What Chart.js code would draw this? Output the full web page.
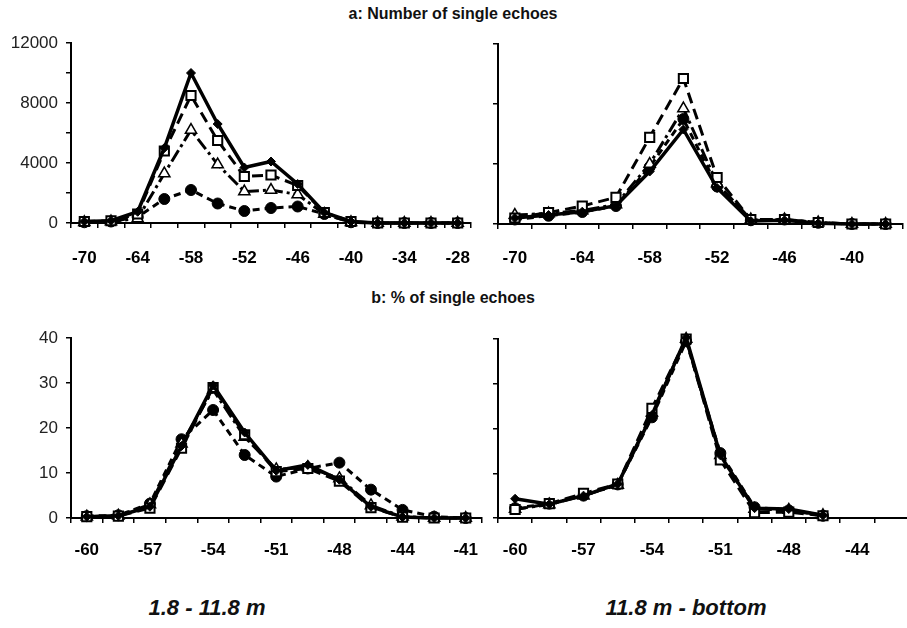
<!DOCTYPE html>
<html>
<head>
<meta charset="utf-8">
<script src="https://cdn.jsdelivr.net/npm/chart.js@4.4.0/dist/chart.umd.min.js"></script>
<style>
  body { margin: 0; background: #fff; width: 907px; height: 628px; position: relative; overflow: hidden;
         font-family: "Liberation Sans", Arial, sans-serif; }
  canvas { position: absolute; }
  .title { position: absolute; font-weight: bold; font-size: 16px; color: #111; white-space: nowrap;
           transform: translate(-50%, -50%); }
  .caption { position: absolute; font-weight: bold; font-style: italic; font-size: 22px; color: #111;
             white-space: nowrap; transform: translate(-50%, -50%); }
</style>
</head>
<body>
<div class="title" style="left:453px;top:14px">a: Number of single echoes</div>
<div class="title" style="left:453px;top:298px">b: % of single echoes</div>
<canvas id="tl" width="480" height="250" style="left:0;top:30px"></canvas>
<canvas id="tr" width="461" height="250" style="left:450px;top:30px"></canvas>
<canvas id="bl" width="490" height="250" style="left:0;top:320px"></canvas>
<canvas id="br" width="467" height="250" style="left:450px;top:320px"></canvas>
<div class="caption" style="left:207px;top:608px">1.8 - 11.8 m</div>
<div class="caption" style="left:686px;top:608px">11.8 m - bottom</div>
<script>
// x categories (dB), only every other one is labelled
const topLeftCats = ['-70', '-67', '-64', '-61', '-58', '-55', '-52', '-49', '-46', '-43', '-40', '-37', '-34', '-31', '-28'];
const topRightCats = ['-70', '-67', '-64', '-61', '-58', '-55', '-52', '-49', '-46', '-43', '-40', '-37'];
const bottomLeftCats = ['-60', '-58', '-57', '-55', '-54', '-52', '-51', '-49', '-48', '-46', '-44', '-42', '-41'];
const bottomRightCats = ['-60', '-59', '-57', '-56', '-54', '-53', '-51', '-50', '-48', '-46', '-44', '-43'];

// a: number of single echoes, 1.8 - 11.8 m
const tlSolid = [100, 150, 750, 5000, 10000, 6600, 3700, 4100, 2600, 700, 100, 0, 0, 0, 0];
const tlSquare = [100, 150, 600, 4800, 8500, 5500, 3100, 3200, 2500, 700, 100, 0, 0, 0, 0];
const tlTriangle = [50, 100, 300, 3300, 6200, 3900, 2100, 2200, 1900, 600, 50, 0, 0, 0, 0];
const tlCircle = [50, 100, 400, 1600, 2200, 1300, 800, 1000, 1100, 600, 50, 0, 0, 0, 0];

// a: number of single echoes, 11.8 m - bottom
const trSolid = [400, 600, 820, 1220, 3500, 6300, 2400, 200, 250, 50, 0, 0];
const trSquare = [400, 760, 1200, 1780, 5780, 9700, 3100, 300, 300, 100, 0, 0];
const trTriangle = [600, 700, 900, 1300, 4000, 7700, 2700, 300, 300, 100, 0, 0];
const trCircle = [300, 550, 800, 1200, 3800, 7000, 2500, 250, 300, 80, 0, 0];

// b: % of single echoes, 1.8 - 11.8 m
const blSolid = [0.3, 0.5, 2.5, 16, 29.5, 19, 10.5, 11.8, 8.5, 2.5, 0.2, 0, 0];
const blSquare = [0.3, 0.4, 2.2, 15.5, 29, 18.5, 10.3, 11, 8.2, 2.3, 0.2, 0, 0];
const blTriangle = [0.3, 0.5, 3, 16.5, 28.5, 18, 10.8, 11.3, 8.8, 2.8, 0.3, 0, 0];
const blCircle = [0.4, 0.6, 3.2, 17.5, 24, 14, 9.2, 11, 12.3, 6.3, 1.8, 0.3, 0];

// b: % of single echoes, 11.8 m - bottom
const brSolid = [4.3, 3.1, 5, 7.6, 23, 40.3, 14, 2.2, 2, 0.6, null, null];
const brSquare = [1.9, 3.2, 5.5, 7.6, 24.5, 40, 13, 1.2, 1.3, 0.5, null, null];
const brTriangle = [2, 3, 5, 7.4, 23.5, 40, 14, 2, 1.8, 0.6, null, null];
const brCircle = [2.2, 3.2, 5, 7.5, 22.5, 39.5, 14.5, 2.4, 1.7, 0.5, null, null];

const FONT = '"Liberation Sans", Arial, sans-serif';

const styles = [
  { borderWidth: 3.5, borderDash: [], pointStyle: 'rectRot', pointRadius: 4.5, pointBackgroundColor: '#000', pointBorderWidth: 1 },
  { borderWidth: 3, borderDash: [11, 6], pointStyle: 'rect', pointRadius: 6.5, pointBackgroundColor: '#fff', pointBorderWidth: 2 },
  { borderWidth: 3, borderDash: [13, 4, 3, 4], pointStyle: 'triangle', pointRadius: 6.5, pointBackgroundColor: '#fff', pointBorderWidth: 1.5 },
  { borderWidth: 3, borderDash: [7, 5], pointStyle: 'circle', pointRadius: 5.5, pointBackgroundColor: '#000', pointBorderWidth: 1 }
];

function drawPanel(id, cats, series, yMax, yStep, labelEvery, g) {
  const ctx = document.getElementById(id);
  return new Chart(ctx, {
    type: 'line',
    data: {
      labels: cats,
      datasets: series.map((s, i) => ({
        data: s,
        borderColor: '#000',
        pointBorderColor: '#000',
        tension: 0,
        clip: false,
        ...styles[i]
      }))
    },
    options: {
      responsive: false,
      animation: false,
      layout: { padding: { top: g.top, right: g.right, left: 0, bottom: 0 } },
      plugins: { legend: { display: false }, tooltip: { enabled: false } },
      scales: {
        x: {
          offset: true,
          grid: { offset: true, drawOnChartArea: false, tickLength: 5, color: '#000', lineWidth: 1.5 },
          border: { color: '#000', width: 2 },
          ticks: {
            autoSkip: false, maxRotation: 0, padding: g.xPad, color: '#000',
            font: { family: FONT, size: 17, weight: 'bold' },
            callback: (v, i) => (i % 2 === 0 ? cats[i] : '')
          },
          afterFit: (s) => { s.height = g.xHeight; s.paddingLeft = 0; s.paddingRight = 0; }
        },
        y: {
          min: 0, max: yMax,
          grid: { drawOnChartArea: false, tickLength: 5, color: '#000', lineWidth: 1.5 },
          border: { color: '#000', width: 2 },
          ticks: {
            stepSize: yStep, padding: 8, color: '#222',
            font: { family: FONT, size: 17 },
            callback: (v) => (labelEvery && v % labelEvery === 0 ? v : '')
          },
          afterFit: (s) => { s.width = g.yWidth; s.paddingTop = 0; s.paddingBottom = 0; }
        }
      }
    }
  });
}

drawPanel('tl', topLeftCats, [tlSolid, tlSquare, tlTriangle, tlCircle], 12000, 2000, 4000,
  { top: 13, right: 9, yWidth: 71, xHeight: 57, xPad: 20 });
drawPanel('tr', topRightCats, [trSolid, trSquare, trTriangle, trCircle], 12000, 4000, 0,
  { top: 14, right: 2, yWidth: 48, xHeight: 56, xPad: 19 });
drawPanel('bl', bottomLeftCats, [blSolid, blSquare, blTriangle, blCircle], 40, 5, 10,
  { top: 18, right: 2, yWidth: 71, xHeight: 52, xPad: 17 });
drawPanel('br', bottomRightCats, [brSolid, brSquare, brTriangle, brCircle], 40, 5, 0,
  { top: 19, right: 2, yWidth: 48, xHeight: 52, xPad: 17 });
</script>
</body>
</html>
